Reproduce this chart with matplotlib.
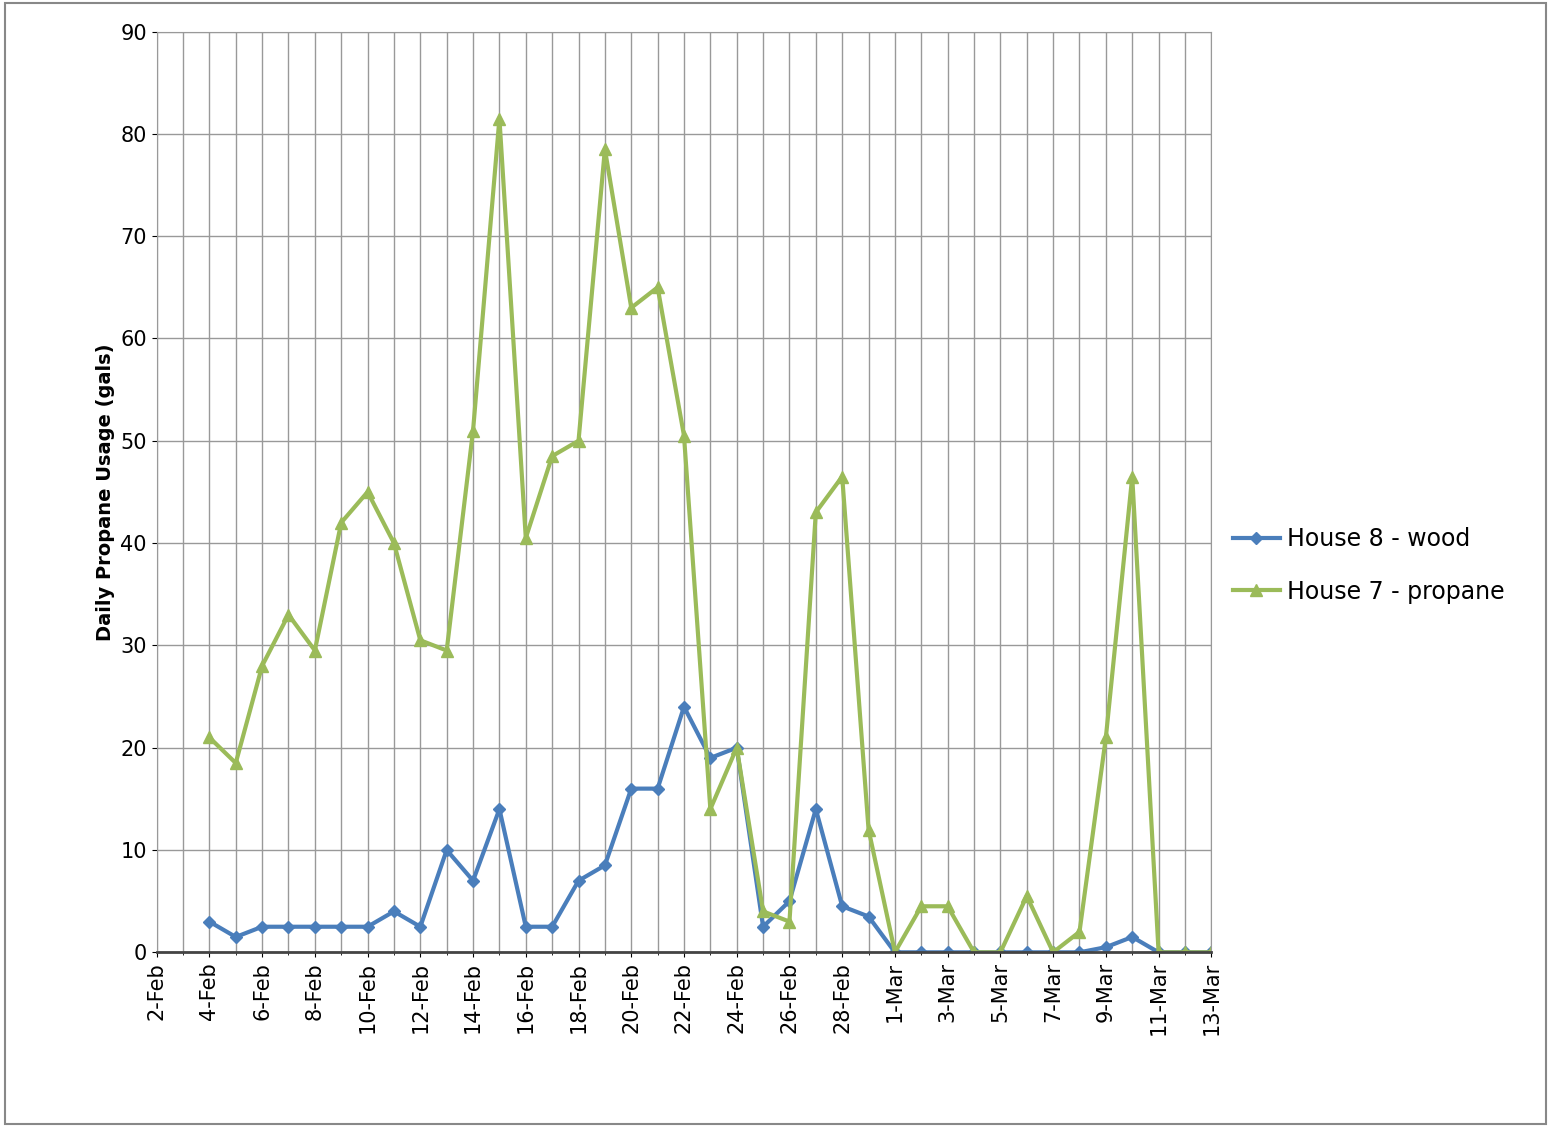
import pandas as pd
import matplotlib
matplotlib.use('Agg')
from matplotlib import pyplot as plt

dates = pd.date_range('2012-02-04', '2012-03-13', freq='D')

house8_wood = [3, 1.5, 2.5, 2.5, 2.5, 2.5, 2.5, 4, 2.5, 10, 7, 14, 2.5, 2.5, 7, 8.5,
               16, 16, 24, 19, 20, 2.5, 5, 14, 4.5, 3.5,
               0, 0, 0, 0, 0, 0, 0, 0, 0.5, 1.5, 0, 0, 0]
house7_propane = [21, 18.5, 28, 33, 29.5, 42, 45, 40, 30.5, 29.5, 51, 81.5, 40.5, 48.5, 50,
                  78.5, 63, 65, 50.5, 14, 20, 4, 3, 43, 46.5, 12,
                  0, 4.5, 4.5, 0, 0, 5.5, 0, 2, 21, 46.5, 0, 0, 0]

fig = plt.figure(figsize=(15.51, 11.27), dpi=100)
ax = fig.add_axes([0.101, 0.155, 0.68, 0.817])

ax.plot(dates, house8_wood, color='#4a7ebb', marker='D', markersize=6, linewidth=3, label='House 8 - wood')
ax.plot(dates, house7_propane, color='#9bbb59', marker='^', markersize=9, linewidth=3, label='House 7 - propane')

ax.set_xlim(pd.Timestamp('2012-02-02'), pd.Timestamp('2012-03-13'))
ax.set_ylim(0, 90)
ax.set_yticks(range(0, 91, 10))
ticks = pd.date_range('2012-02-02', '2012-03-13', freq='2D')
ax.set_xticks(ticks)
ax.set_xticklabels([f"{d.day}-{d.strftime('%b')}" for d in ticks], rotation=90, fontsize=15)
ax.set_xticks(pd.date_range('2012-02-02', '2012-03-13', freq='D'), minor=True)
ax.tick_params(axis='y', labelsize=15)
ax.grid(True, which='both', axis='x', color='#999999', linewidth=1)
ax.grid(True, axis='y', color='#999999', linewidth=1)
ax.set_axisbelow(True)
ax.set_ylabel('Daily Propane Usage (gals)', fontsize=14, fontweight='bold')
for s in ax.spines.values():
    s.set_color('#999999')
ax.spines['bottom'].set_color('#444444')
ax.spines['bottom'].set_linewidth(2)

ax.legend(loc='center left', bbox_to_anchor=(1.0, 0.42), frameon=False, fontsize=17,
          handlelength=2.0, handletextpad=0.3, labelspacing=1.2)

fig.patches.append(plt.Rectangle((0.003, 0.003), 0.994, 0.994, transform=fig.transFigure,
                                 fill=False, edgecolor='#888888', linewidth=1.5))
plt.savefig('out.png', dpi=100)
